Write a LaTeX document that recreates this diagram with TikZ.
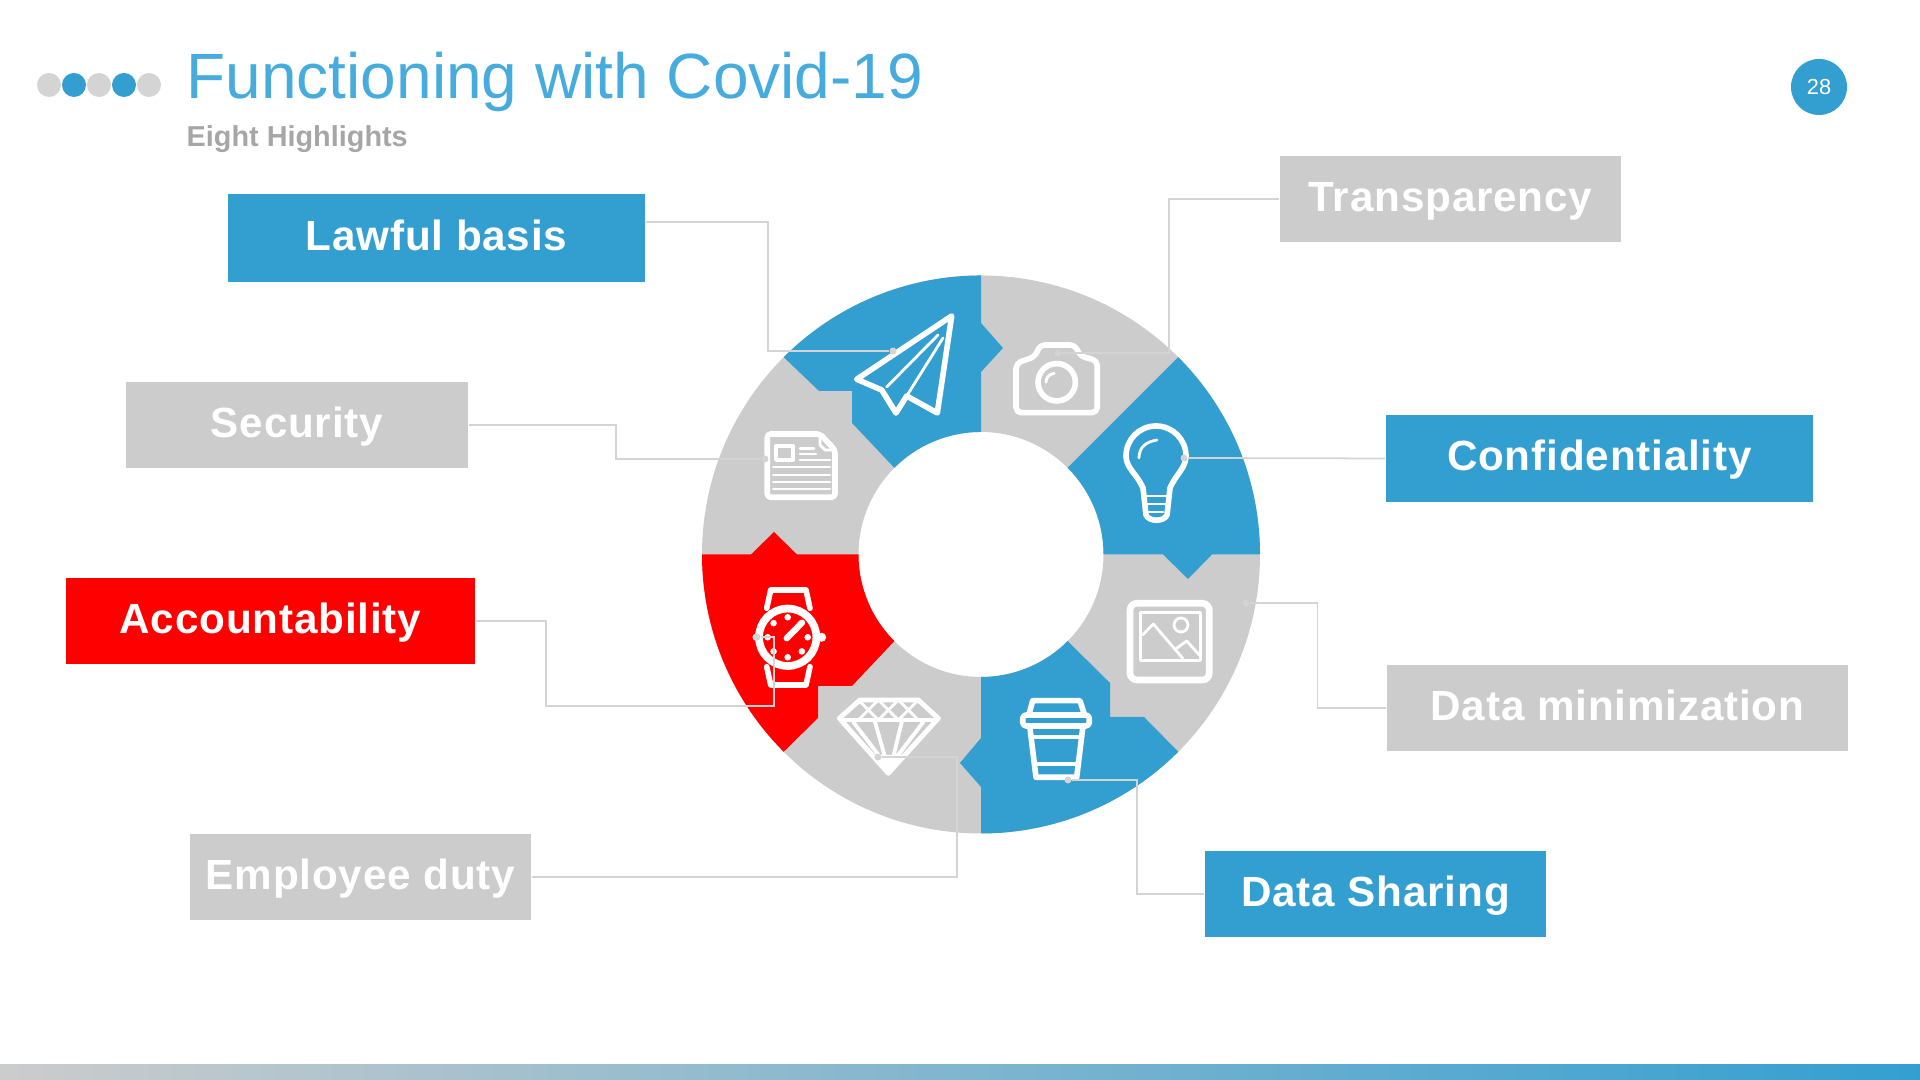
\documentclass[tikz,border=0pt]{standalone}
\usepackage{fontspec}
\setmainfont{Liberation Sans}
\usetikzlibrary{calc}
\definecolor{ringblue}{HTML}{339FD1}
\definecolor{titleblue}{HTML}{45ACDD}
\definecolor{ringgrey}{HTML}{CCCCCC}
\definecolor{subgrey}{HTML}{A6A6A6}
\definecolor{leadgrey}{HTML}{D4D4D4}
\tikzset{
    label box/.style={rectangle, minimum height=0.86cm, inner sep=0pt, text=white, text height=0.33cm, text depth=0.08cm, font=\fontsize{12}{14}\bfseries\addfontfeature{LetterSpace=2}},
    leader/.style={draw=leadgrey, line width=0.5pt},
    end dot/.style={circle, fill=leadgrey, inner sep=0pt, minimum size=0.07cm},
    icon/.style={draw=white, line width=1.6pt, line join=round, line cap=round},
    icon mid/.style={draw=white, line width=1.1pt, line join=round, line cap=round},
    icon thin/.style={draw=white, line width=0.8pt, line join=round, line cap=round}
}
\begin{document}
\begin{tikzpicture}[x=0.01cm, y=0.01cm]
    \useasboundingbox (0,0) rectangle (1920,1080);
    \coordinate (hub) at (981,525.5);
    % footer bar
    \shade[left color=ringgrey, right color=ringblue] (0,0) rectangle (1920,15);
    % header
    \foreach \x/\c in {49/leadgrey, 74/ringblue, 99/leadgrey, 124/ringblue, 149/leadgrey}
        \fill[\c] (\x,995) circle (12);
    \node[anchor=base west, inner sep=0pt, text=titleblue, font=\fontsize{18.2}{20}\selectfont] (title) at (186,981) {Functioning with Covid-19};
    \node[anchor=base west, inner sep=0pt, text=subgrey, font=\fontsize{8.2}{10}\bfseries] (subtitle) at (186,933) {Eight Highlights};
    \node[circle, fill=ringblue, minimum size=0.56cm, inner sep=0pt, text=white, font=\fontsize{6.2}{8}\selectfont] (pageno) at (1819,993) {28};
    % ring
    \fill[ringgrey, even odd rule] (hub) circle (279) (hub) circle (122.5);
    \fill[ringblue] ($(hub)+(135:279)$) arc[start angle=135, end angle=90, radius=279] -- (981,757) -- (1003,732) -- (981,708) -- ($(hub)+(90:122.5)$) arc[start angle=90, end angle=135, radius=122.5] -- (852,657) -- (852,689) -- (819,689) -- cycle;
    \fill[ringblue] ($(hub)+(45:279)$) arc[start angle=45, end angle=0, radius=279] -- (1212,525.5) -- (1188,501) -- (1163,525.5) -- ($(hub)+(0:122.5)$) arc[start angle=0, end angle=45, radius=122.5] -- cycle;
    \fill[ringblue] ($(hub)+(-45:279)$) arc[start angle=-45, end angle=-90, radius=279] -- (981,293) -- (960,317) -- (981,342) -- ($(hub)+(-90:122.5)$) arc[start angle=-90, end angle=-45, radius=122.5] -- (1110,397) -- (1110,363) -- (1144,363) -- cycle;
    \fill[red] ($(hub)+(180:279)$) arc[start angle=180, end angle=225, radius=279] -- (818,362) -- (818,394) -- (852,394) -- ($(hub)+(225:122.5)$) arc[start angle=225, end angle=180, radius=122.5] -- (797,525.5) -- (774,548) -- (751,525.5) -- cycle;
    % paper plane
    \draw[icon] (856.7,700.7) -- (951.7,764) -- (937.3,667) -- (906.7,684) -- (896,667) -- (881.7,690) -- cycle;
    \draw[icon thin] (886.7,693) -- (938,745) (906.7,684) -- (943,742);
    % camera
    \draw[icon, rounded corners=1.5pt] (1016,667.3) -- (1016,716.7) -- (1035,723.3) -- (1040,735) -- (1075,735) -- (1080,724) -- (1097.3,719.3) -- (1097.3,667.3) -- cycle;
    \draw[icon] (1056.7,697.7) circle (18.7);
    \draw[icon thin] (1046,697.7) .. controls (1046,702) and (1049,706) .. (1054.3,706.7);
    % bulb
    \draw[icon] (1143,592) .. controls (1137,606) and (1126,612) .. (1126,624) arc[start angle=180, end angle=0, radius=30] .. controls (1186,612) and (1176,606) .. (1170,592) -- (1167,565) .. controls (1164,558) and (1149,558) .. (1146,565) -- cycle;
    \draw[icon thin] (1145,584) -- (1168,584) (1147,576) -- (1166,576) (1149,568) -- (1163,568);
    \draw[icon thin] (1139,622) .. controls (1139,633) and (1146,638) .. (1157,640);
    % watch
    \draw[draw=white, line width=2.2pt] (787.7,442.7) circle (28.7);
    \draw[icon mid, line width=1.6pt] (766.7,471.7) -- (770.7,490) -- (806,490) -- (810,471.7);
    \draw[icon mid, line width=1.6pt] (766.7,413.3) -- (770.7,395) -- (806,395) -- (810,413.3);
    \fill[white] (821.7,442.7) circle (4.5) (756,442.7) circle (3.5);
    \draw[icon mid, line width=1.8pt] (786.7,441.7) -- (802,457.3);
    \foreach \a in {90,135,0,-45,-90,-135,180}
        \fill[white] (787.7,442.7) ++(\a:20) circle (3.3);
    % diamond
    \fill[white] (876.7,325) -- (906.7,325) -- (888.3,306.7) -- cycle;
    \draw[icon, line width=1.4pt] (860,380) -- (918.3,380) -- (938.3,361.7) -- (888.3,306.7) -- (839.3,361.7) -- cycle;
    \draw[icon mid] (841,360) -- (936,360);
    \foreach \x in {858.3,878.3,898.3}
        \draw[icon thin] (\x,380) -- (\x+20,360) (\x+20,380) -- (\x,360);
    \draw[icon mid] (853.3,358) -- (880,323) (875,358) -- (885,323) (901.7,358) -- (893.3,323) (923.3,358) -- (896.7,323);
    % cup
    \draw[icon] (1029.3,366.7) -- (1032.7,379.3) -- (1080,379.3) -- (1084,366.7);
    \draw[icon, rounded corners=1pt] (1022.7,365) rectangle (1089.3,354);
    \draw[icon] (1030,351.7) -- (1036,302.7) -- (1076.7,302.7) -- (1082.7,351.7);
    \draw[icon mid] (1031.7,343.3) -- (1080,343.3) (1036,316) -- (1077.3,316);
    % picture
    \draw[draw=white, line width=1.9pt, rounded corners=2pt] (1130,476.7) rectangle (1209.3,400);
    \draw[icon thin] (1140.7,467.7) rectangle (1200.7,419.3);
    \draw[icon thin] (1142.7,445) -- (1153.3,456) -- (1182.7,421.7) (1176.7,431.7) -- (1186.7,439) -- (1199.3,425);
    \draw[icon thin] (1181,455) circle (7);
    % newspaper
    \draw[icon, rounded corners=1pt] (767.3,646) -- (820,646) -- (835,630) -- (835,582.7) -- (767.3,582.7) -- cycle;
    \draw[icon thin] (820,644) -- (820,635) -- (825,630) -- (834,630);
    \draw[icon mid] (776,634.3) rectangle (793.3,620);
    \draw[icon thin] (800,631.7) -- (814,631.7) (800,626) -- (816,626) (800,620) -- (830,620);
    \foreach \y in {613,605,598,591}
        \draw[icon thin] (773.3,\y) -- (830,\y);
    % labels
    \node[label box, fill=ringblue, minimum width=4.17cm, minimum height=0.88cm] (lawful) at (436.5,842) {Lawful basis};
    \node[label box, fill=ringgrey, minimum width=3.42cm] (security) at (297,655) {Security};
    \node[label box, fill=red, minimum width=4.09cm] (account) at (270.5,459) {Accountability};
    \node[label box, fill=ringgrey, minimum width=3.41cm] (employee) at (360.5,203) {Employee duty};
    \node[label box, fill=ringgrey, minimum width=3.41cm] (transp) at (1450.5,881) {Transparency};
    \node[label box, fill=ringblue, minimum width=4.27cm, minimum height=0.87cm] (confid) at (1599.5,621.5) {Confidentiality};
    \node[label box, fill=ringgrey, minimum width=4.61cm] (datamin) at (1617.5,372) {Data minimization};
    \node[label box, fill=ringblue, minimum width=3.41cm] (sharing) at (1375.5,186) {Data Sharing};
    % end dots
    \node[end dot] (lawfuldot) at (893,729) {};
    \node[end dot] (securitydot) at (765,621) {};
    \node[end dot] (accountdot) at (757,443) {};
    \node[end dot] (employeedot) at (878,323) {};
    \node[end dot] (transpdot) at (1058,727) {};
    \node[end dot] (confiddot) at (1184,622) {};
    \node[end dot] (datamindot) at (1246,477) {};
    \node[end dot] (sharingdot) at (1068,300) {};
    % connectors
    \draw[leader] (lawful.east) ++(0,16) -| (768,729) -- (lawfuldot);
    \draw[leader] (security.east) -| (616,621) -- (securitydot);
    \draw[leader] (account.east) -| (546,374) -| (774,443) -- (accountdot);
    \draw[leader] (employee.east) -| (957,323) -- (employeedot);
    \draw[leader] (transp.west) -| (1169,727) -- (transpdot);
    \draw[leader] (confid.west) -- (confiddot);
    \draw[leader] (datamin.west) -| (1317.5,477) -- (datamindot);
    \draw[leader] (sharing.west) -| (1137,300) -- (sharingdot);
\end{tikzpicture}
\end{document}
